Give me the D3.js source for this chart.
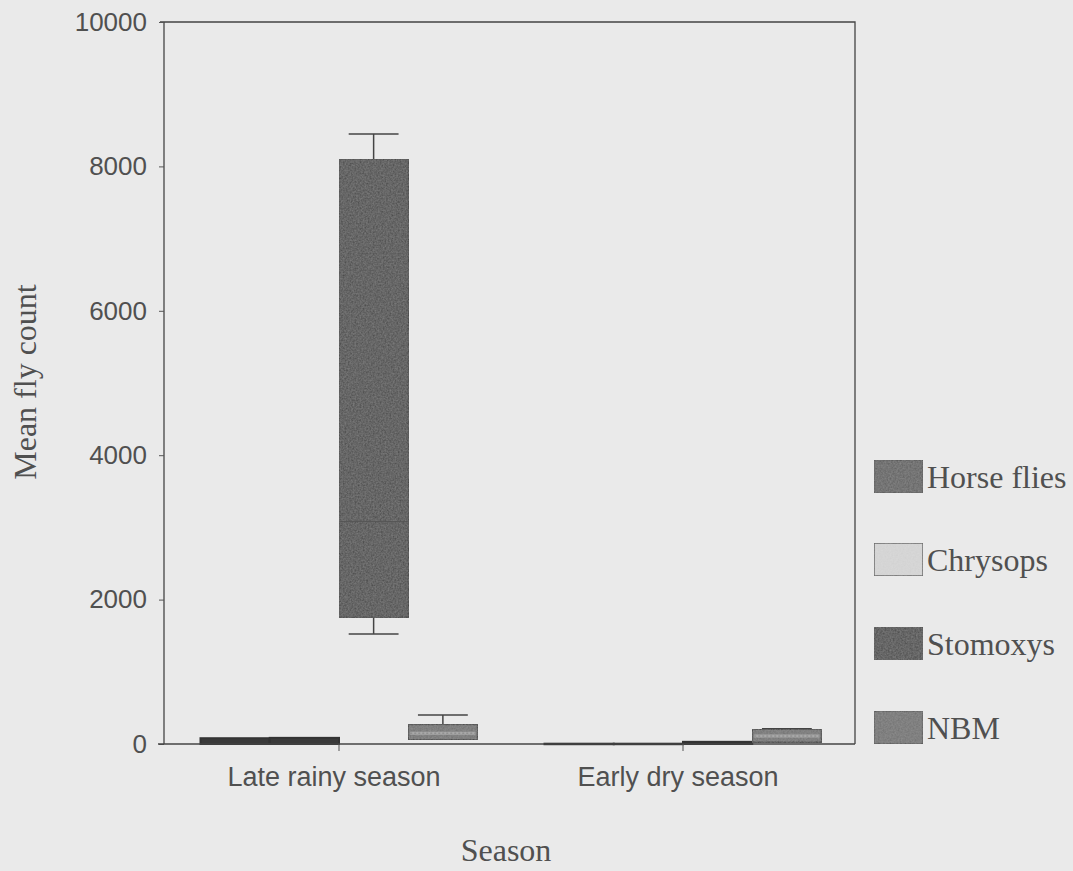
<!DOCTYPE html>
<html>
<head>
<meta charset="utf-8">
<script src="https://cdn.jsdelivr.net/npm/d3@7"></script>
<style>
  html, body { margin: 0; padding: 0; background: #eaeaea; }
  svg { display: block; }
</style>
</head>
<body>
<svg id="chart" width="1073" height="871"></svg>
<script>
// ---- data ----
const seasons = ["Late rainy season", "Early dry season"];
const species = ["Horse flies", "Chrysops", "Stomoxys", "NBM"];
// per species: [late rainy, early dry]
const whiskerLow  = { "Horse flies": [0, 0],   "Chrysops": [0, 0],   "Stomoxys": [1525, 0],  "NBM": [40, 20]  };
const quart1      = { "Horse flies": [0, 0],   "Chrysops": [0, 0],   "Stomoxys": [1755, 0],  "NBM": [60, 25]  };
const medians     = { "Horse flies": [40, 2],  "Chrysops": [40, 2],  "Stomoxys": [3080, 10], "NBM": [150, 110] };
const quart3      = { "Horse flies": [80, 4],  "Chrysops": [85, 4],  "Stomoxys": [8100, 30], "NBM": [270, 205] };
const whiskerHigh = { "Horse flies": [85, 4],  "Chrysops": [85, 4],  "Stomoxys": [8450, 30], "NBM": [400, 210] };
const yTicks = [0, 2000, 4000, 6000, 8000, 10000];

(function () {
// ---- style ----
const fills = { "Horse flies": "#5c5c5c", "Chrysops": "#dadada", "Stomoxys": "#434343", "NBM": "#6e6e6e" };
const sans = "Liberation Sans, Arial, sans-serif";
const serif = "Liberation Serif, Times New Roman, serif";
const ink = "#505050";

const svg = d3.select("#chart");
const defs = svg.append("defs");
const flt = defs.append("filter").attr("id", "grain").attr("x", 0).attr("y", 0).attr("width", 1).attr("height", 1);
flt.append("feTurbulence").attr("type", "fractalNoise").attr("baseFrequency", 0.6).attr("numOctaves", 2).attr("result", "noise");
flt.append("feColorMatrix").attr("in", "noise").attr("type", "matrix")
   .attr("values", "0 0 0 0 0.5  0 0 0 0 0.5  0 0 0 0 0.5  0 0 0 0.35 0").attr("result", "n2");
flt.append("feComposite").attr("in", "n2").attr("in2", "SourceGraphic").attr("operator", "atop").attr("result", "n3");
flt.append("feMerge").call(m => { m.append("feMergeNode").attr("in", "SourceGraphic"); m.append("feMergeNode").attr("in", "n3"); });

const pLeft = 164, pRight = 855, pTop = 22, pBottom = 744;

const y = d3.scaleLinear().domain([0, 10000]).range([pBottom, pTop]);
const x = d3.scaleBand().domain(seasons).range([167, 855]).padding(0);
const groupW = 277;
const xs = d3.scaleBand().domain(species).range([0, groupW]).padding(0);
const groupOff = (x.bandwidth() - groupW) / 2;

// frame (top & right)
svg.append("path")
  .attr("d", `M${pLeft - 4},${pTop}H${pRight}V${pBottom}`)
  .attr("fill", "none").attr("stroke", "#444").attr("stroke-width", 1.3);

// boxes
const g = svg.append("g");
seasons.forEach((s, si) => {
  species.forEach(sp => {
    const x0 = x(s) + groupOff + xs(sp);
    const w = xs.bandwidth();
    const cx = x0 + w / 2;
    const lo = whiskerLow[sp][si], q1 = quart1[sp][si], md = medians[sp][si], q3 = quart3[sp][si], hi = whiskerHigh[sp][si];
    const cap = w * 0.36;
    const h = Math.max(y(q1) - y(q3), 0.5);
    const big = h > 12;
    if (big && hi > q3) {
      g.append("line").attr("x1", cx).attr("x2", cx).attr("y1", y(q3)).attr("y2", y(hi)).attr("stroke", "#444").attr("stroke-width", 1.5);
      g.append("line").attr("x1", cx - cap).attr("x2", cx + cap).attr("y1", y(hi)).attr("y2", y(hi)).attr("stroke", "#444").attr("stroke-width", 1.5);
    }
    if (big && lo < q1 && sp === "Stomoxys") {
      g.append("line").attr("x1", cx).attr("x2", cx).attr("y1", y(q1)).attr("y2", y(lo)).attr("stroke", "#444").attr("stroke-width", 1.5);
      g.append("line").attr("x1", cx - cap).attr("x2", cx + cap).attr("y1", y(lo)).attr("y2", y(lo)).attr("stroke", "#444").attr("stroke-width", 1.5);
    }
    g.append("rect")
      .attr("x", x0).attr("y", y(q3)).attr("width", w).attr("height", h)
      .attr("fill", big ? fills[sp] : "#3a3a3a").attr("stroke", "#333").attr("stroke-width", big ? 1.3 : 2)
      .attr("filter", big ? "url(#grain)" : null);
    if (sp === "NBM") {
      g.append("line").attr("x1", x0 + 2).attr("x2", x0 + w - 2)
        .attr("y1", y(md)).attr("y2", y(md)).attr("stroke", "#a8a8a8").attr("stroke-width", 3);
      g.append("line").attr("x1", x0 + 2).attr("x2", x0 + w - 2)
        .attr("y1", y(md)).attr("y2", y(md)).attr("stroke", "#858585").attr("stroke-width", 1).attr("stroke-dasharray", "2,2");
    } else if (h > 40) {
      g.append("line").attr("x1", x0 + 1).attr("x2", x0 + w - 1)
        .attr("y1", y(md)).attr("y2", y(md)).attr("stroke", "#555").attr("stroke-width", 1);
    }
  });
});

// y axis
const yAxis = d3.axisLeft(y).tickValues(yTicks).tickSize(5).tickFormat(d3.format("d"));
const ya = svg.append("g").attr("transform", `translate(${pLeft},0)`).call(yAxis);
ya.select(".domain").attr("stroke", "#444").attr("stroke-width", 1.3).attr("d", `M0,${pTop}V${pBottom}`);
ya.selectAll(".tick line").attr("stroke", "#555");
ya.selectAll(".tick text").attr("font-family", sans).attr("font-size", 26).attr("fill", ink).attr("x", -17);

// x axis
const xAxis = d3.axisBottom(x).tickSize(7).tickSizeOuter(0);
const xa = svg.append("g").attr("transform", `translate(0,${pBottom})`).call(xAxis);
xa.select(".domain").attr("stroke", "#444").attr("stroke-width", 1.3).attr("d", `M${pLeft - 6},0H${pRight}`);
xa.selectAll(".tick line").attr("stroke", "#555");
xa.selectAll(".tick text").attr("font-family", sans).attr("font-size", 27).attr("fill", ink).attr("y", 42).attr("dy", 0).attr("dx", -5);

// axis titles
svg.append("text").attr("x", 506).attr("y", 861).attr("text-anchor", "middle")
  .attr("font-family", serif).attr("font-size", 32).attr("fill", ink).text("Season");
svg.append("text").attr("transform", "translate(36,382) rotate(-90)").attr("text-anchor", "middle")
  .attr("font-family", serif).attr("font-size", 32).attr("fill", ink).text("Mean fly count");

// legend
const legY = [460, 543, 627, 711];
const leg = svg.append("g");
species.forEach((sp, i) => {
  leg.append("rect").attr("x", 874).attr("y", legY[i]).attr("width", 49).attr("height", 33)
    .attr("fill", fills[sp]).attr("stroke", "#444").attr("stroke-width", 1.3).attr("filter", "url(#grain)");
  leg.append("text").attr("x", 927).attr("y", legY[i] + 28)
    .attr("font-family", serif).attr("font-size", 32).attr("fill", ink).text(sp);
});
})();
</script>
</body>
</html>
